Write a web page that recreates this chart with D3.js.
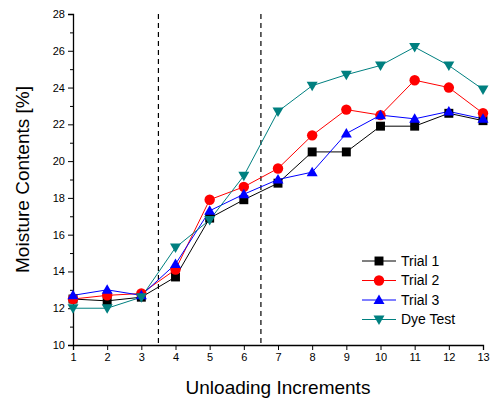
<!DOCTYPE html>
<html>
<head>
<meta charset="utf-8">
<script src="https://cdn.jsdelivr.net/npm/d3@7"></script>
<style>
  body { margin: 0; background: #fff; }
  text { font-family: "Liberation Sans", Arial, sans-serif; }
</style>
</head>
<body>
<div id="chart"></div>
<script>
// increments along the x axis
let increments = [1, 2, 3, 4, 5, 6, 7, 8, 9, 10, 11, 12, 13];

let trial1 = [12.5, 12.4, 12.6, 13.7, 16.9, 17.9, 18.8, 20.5, 20.5, 21.9, 21.9, 22.6, 22.2];
let trial2 = [12.5, 12.7, 12.8, 14.1, 17.9, 18.6, 19.6, 21.4, 22.8, 22.5, 24.4, 24.0, 22.6];
let trial3 = [12.7, 13.0, 12.7, 14.4, 17.3, 18.2, 19.0, 19.4, 21.5, 22.5, 22.3, 22.7, 22.3];
let dyeTest = [12.0, 12.0, 12.6, 15.3, 16.8, 19.2, 22.7, 24.1, 24.7, 25.2, 26.2, 25.2, 23.9];

let seriesNames = ["Trial 1", "Trial 2", "Trial 3", "Dye Test"];
let dividers = [3.5, 6.5];

let series = [
    {name: seriesNames[0], values: trial1, color: "#000000", shape: "square"},
    {name: seriesNames[1], values: trial2, color: "#ff0000", shape: "circle"},
    {name: seriesNames[2], values: trial3, color: "#0000ff", shape: "up"},
    {name: seriesNames[3], values: dyeTest, color: "#008080", shape: "down"}
];

let margin = {top: 14, right: 7, bottom: 55, left: 73};
let width = 490 - margin.left - margin.right;
let height = 400 - margin.top - margin.bottom;

let svg = d3.select("#chart").append("svg")
    .attr("width", 490)
    .attr("height", 400)
    .append("g")
    .attr("transform", "translate(" + margin.left + "," + margin.top + ")");

let x = d3.scaleLinear().domain([1, 13]).range([0, width]);
let y = d3.scaleLinear().domain([10, 28]).range([height, 0]);

// marker path for each shape
function markerPath(shape) {
    if (shape == "square") return d3.symbol(d3.symbolSquare, 80)();
    if (shape == "circle") return d3.symbol(d3.symbolCircle, 85)();
    if (shape == "up") return "M0,-5.5L5.5,4L-5.5,4Z";
    return "M0,5.5L5.5,-4L-5.5,-4Z";
}

// dashed dividers
svg.selectAll(".divider")
    .data(dividers)
    .enter()
    .append("line")
    .attr("x1", d => x(d))
    .attr("x2", d => x(d))
    .attr("y1", 0)
    .attr("y2", height)
    .attr("stroke", "#000")
    .attr("stroke-width", 1.2)
    .attr("stroke-dasharray", "5,4");

// axes
let yAxis = svg.append("g")
    .call(d3.axisLeft(y).tickValues(d3.range(10, 29, 2)).tickSize(5).tickPadding(3));
svg.append("g")
    .call(d3.axisLeft(y).tickValues(d3.range(11, 28, 2)).tickSize(3).tickFormat(""))
    .select(".domain").remove();

let xAxis = svg.append("g")
    .attr("transform", "translate(0," + height + ")")
    .call(d3.axisBottom(x).tickValues(increments).tickSize(5).tickPadding(3).tickFormat(d3.format("d")));

[yAxis, xAxis].forEach(a => {
    a.select(".domain").attr("stroke-width", 1.3);
    a.selectAll("text").attr("font-size", "11px").attr("fill", "#000");
});

// lines and markers
let line = d3.line()
    .x((d, i) => x(increments[i]))
    .y(d => y(d));

series.forEach(s => {
    svg.append("path")
        .datum(s.values)
        .attr("d", line)
        .attr("fill", "none")
        .attr("stroke", s.color)
        .attr("stroke-width", 1);
});

series.forEach(s => {
    svg.selectAll(".m-" + s.shape)
        .data(s.values)
        .enter()
        .append("path")
        .attr("d", markerPath(s.shape))
        .attr("transform", (d, i) => "translate(" + x(increments[i]) + "," + y(d) + ")")
        .attr("fill", s.color);
});

// legend
let legend = svg.append("g")
    .attr("transform", "translate(" + (362 - margin.left) + "," + (261 - margin.top) + ")");

series.forEach((s, i) => {
    let row = legend.append("g").attr("transform", "translate(0," + (i * 19.5) + ")");
    row.append("line")
        .attr("x1", 0).attr("x2", 34)
        .attr("stroke", s.color).attr("stroke-width", 1);
    row.append("path")
        .attr("d", markerPath(s.shape))
        .attr("transform", "translate(17,0)")
        .attr("fill", s.color);
    row.append("text")
        .attr("x", 39)
        .attr("dy", "0.35em")
        .attr("font-size", "14px")
        .text(s.name);
});

// axis titles
svg.append("text")
    .attr("x", width / 2)
    .attr("y", height + 49)
    .attr("text-anchor", "middle")
    .attr("font-size", "19px")
    .text("Unloading Increments");

svg.append("text")
    .attr("transform", "rotate(-90)")
    .attr("x", -height / 2)
    .attr("y", -44)
    .attr("text-anchor", "middle")
    .attr("font-size", "19px")
    .text("Moisture Contents [%]");
</script>
</body>
</html>
